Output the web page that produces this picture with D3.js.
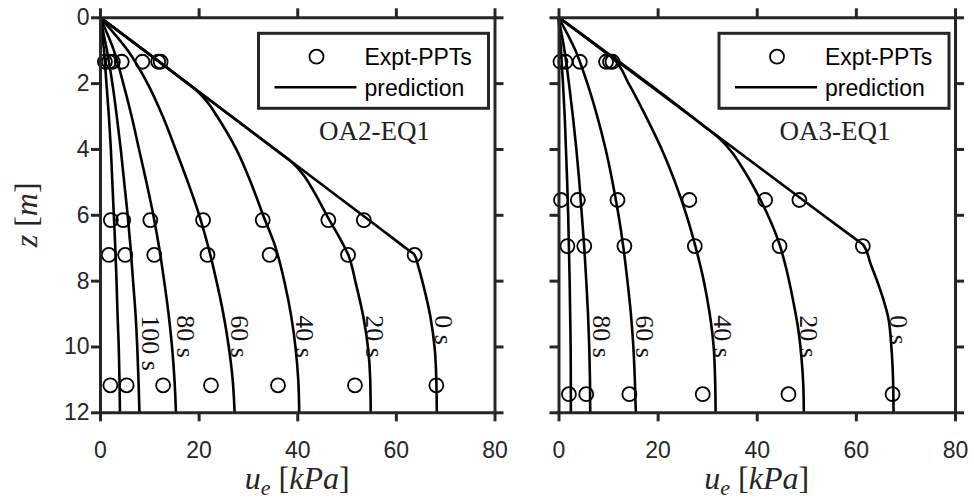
<!DOCTYPE html>
<html>
<head>
<meta charset="utf-8">
<script src="https://cdn.jsdelivr.net/npm/d3@7"></script>
<style>
  body { margin: 0; background: #fff; }
  svg { display: block; }
</style>
</head>
<body>
<div id="chart"></div>
<script>
const width = 974;
const height = 501;

const uTicks = [0, 20, 40, 60, 80];
const zTicks = [0, 2, 4, 6, 8, 10, 12];

// predictions, pairs of [z (m), u_e (kPa)]
// OA2-EQ1
const oa2_0s = [[0, 0], [6.3, 55.8], [7.1, 62.8], [7.2, 63.7], [7.6, 64.6], [8.1, 65.5], [9.1, 67.0], [10.1, 67.9], [11, 68.2], [12, 68.3]];
const oa2_20s = [[0, 0], [4.0, 35.4], [4.4, 38.9], [4.8, 41.3], [5.25, 43.2], [6.1, 46.3], [6.7, 48.6], [7.2, 50.3], [8.1, 51.9], [9.1, 53.4], [10.1, 54.4], [11, 54.8], [12, 54.9]];
const oa2_40s = [[0, 0], [2.0, 17.7], [2.2, 19.4], [2.6, 21.9], [3.0, 23.7], [4.0, 27.6], [5.1, 30.8], [6.1, 33.3], [6.9, 35.4], [8.1, 37.5], [9.1, 38.8], [10.1, 39.7], [11, 40.2], [12, 40.4]];
const oa2_60s = [[0, 0], [1, 5.6], [2, 9.6], [3, 12.7], [4, 15.3], [5, 17.8], [6, 20.1], [7, 22.0], [8, 23.6], [9, 25.0], [10, 26.1], [11, 26.9], [12, 27.3]];
const oa2_80s = [[0, 0], [1, 2.8], [2, 4.7], [3, 6.4], [4, 7.9], [5, 9.4], [6, 10.8], [7, 12.0], [8, 13.0], [9, 13.9], [10, 14.6], [11, 15.1], [12, 15.4]];
const oa2_100s = [[0, 0], [1, 1.4], [2, 2.5], [3, 3.4], [4, 4.2], [5, 4.9], [6, 5.6], [7, 6.2], [8, 6.7], [9, 7.2], [10, 7.55], [11, 7.8], [12, 8.0]];
const oa2_120s = [[0, 0], [1, 0.8], [2, 1.3], [3, 1.8], [4, 2.2], [5, 2.5], [6, 2.8], [7, 3.1], [8, 3.35], [9, 3.55], [10, 3.8], [11, 3.95], [12, 4.05]];

const oa2Labels = ["0 s", "20 s", "40 s", "60 s", "80 s", "100 s"];
const oa2LabelU = [69.8, 55.8, 41.6, 28.5, 17.4, 10.3];
const oa2LabelZ = 9.05;

// measured (Expt-PPTs)
const oa2PtDepth = [1.35, 6.16, 7.22, 11.18];
const oa2PtU = [
  [1.0, 1.8, 2.6, 4.4, 8.6, 11.8, 12.3],
  [2.2, 4.7, 10.2, 20.9, 33.0, 46.3, 53.5],
  [1.8, 5.1, 11.0, 21.8, 34.4, 50.3, 63.8],
  [2.1, 5.4, 12.8, 22.5, 36.1, 51.7, 68.2]
];

// OA3-EQ1
const oa3_0s = [[0, 0], [6.0, 53.3], [6.8, 60.5], [6.9, 61.4], [7.5, 63.0], [8.1, 64.5], [8.6, 65.6], [9.1, 66.5], [10.1, 67.2], [11, 67.5], [12, 67.6]];
const oa3_20s = [[0, 0], [3.3, 29.3], [3.7, 32.6], [4.1, 35.0], [4.5, 36.8], [5.5, 40.6], [6.9, 44.6], [7.6, 45.9], [8.5, 47.2], [9.4, 48.3], [10.3, 49.0], [11.2, 49.4], [12, 49.5]];
const oa3_40s = [[0, 0], [1.13, 10.0], [1.25, 11.0], [2, 14.1], [3, 17.6], [4, 20.8], [5, 23.5], [6, 25.8], [7, 27.7], [8, 29.3], [9, 30.5], [10, 31.3], [11, 31.6], [12, 31.7]];
const oa3_60s = [[0, 0], [1, 3.4], [2, 5.8], [3, 7.8], [4, 9.5], [5, 10.9], [6, 12.1], [7, 13.1], [8, 13.9], [9, 14.6], [10, 15.1], [11, 15.4], [12, 15.6]];
const oa3_80s = [[0, 0], [1, 1.2], [2, 2.1], [3, 2.9], [4, 3.6], [5, 4.2], [6, 4.7], [7, 5.2], [8, 5.6], [9, 5.95], [10, 6.2], [11, 6.35], [12, 6.4]];
const oa3_100s = [[0, 0], [1, 0.5], [2, 0.9], [3, 1.25], [4, 1.5], [5, 1.75], [6, 1.95], [7, 2.1], [8, 2.25], [9, 2.35], [10, 2.45], [12, 2.5]];

const oa3Labels = ["0 s", "20 s", "40 s", "60 s", "80 s"];
const oa3LabelU = [68.7, 50.6, 33.2, 17.4, 8.75];
const oa3LabelZ = 9.05;

const oa3PtDepth = [1.35, 5.55, 6.95, 11.45];
const oa3PtU = [
  [0.4, 1.4, 4.3, 9.6, 10.4, 10.9],
  [0.5, 3.9, 11.9, 26.4, 41.7, 48.6],
  [1.8, 5.2, 13.3, 27.5, 44.6, 61.4],
  [2.1, 5.6, 14.3, 29.1, 46.4, 67.4]
];

const axisColor = "#262626";
const sans = "'Liberation Sans', Arial, sans-serif";
const serif = "'Liberation Serif', 'Times New Roman', serif";

const svg = d3.select("#chart").append("svg")
  .attr("width", width)
  .attr("height", height)
  .style("background", "#fff");

const y = d3.scaleLinear([0, 12], [17.3, 412.3]);

function styleAxis (sel) {
  sel.select(".domain").attr("stroke", axisColor).attr("stroke-width", 3).attr("stroke-linecap", "square");
  sel.selectAll(".tick line").attr("stroke", axisColor).attr("stroke-width", 3);
  sel.selectAll(".tick text").attr("fill", axisColor).style("font", `23px ${sans}`);
}

function panel (cfg) {
  const x = d3.scaleLinear([0, 80], [cfg.left, cfg.right]);
  const g = svg.append("g");

  const line = d3.line()
    .x(d => x(d[1]))
    .y(d => y(d[0]))
    .curve(d3.curveMonotoneY);

  g.append("g")
    .selectAll("path")
    .data(cfg.curves)
    .join("path")
    .attr("fill", "none")
    .attr("stroke", "#000")
    .attr("stroke-width", 2.6)
    .attr("d", line);

  const pts = cfg.ptDepth.flatMap((z, i) => cfg.ptU[i].map(u => ({z, u})));
  g.append("g")
    .selectAll("circle")
    .data(pts)
    .join("circle")
    .attr("cx", d => x(d.u))
    .attr("cy", d => y(d.z))
    .attr("r", 7)
    .attr("fill", "none")
    .attr("stroke", "#000")
    .attr("stroke-width", 1.8);

  // time labels along the isochrones
  g.append("g")
    .selectAll("text")
    .data(cfg.labels)
    .join("text")
    .attr("transform", (d, i) => `translate(${x(cfg.labelU[i])},${y(cfg.labelZ)}) rotate(90)`)
    .attr("dy", "0.35em")
    .style("font", `26px ${serif}`)
    .attr("fill", "#111")
    .text(d => d);

  // axes
  g.append("g")
    .attr("transform", `translate(0,${y(12)})`)
    .call(d3.axisBottom(x).tickValues(uTicks).tickSize(9).tickSizeOuter(0).tickPadding(20))
    .call(styleAxis);
  g.append("g")
    .attr("transform", `translate(0,${y(0)})`)
    .call(d3.axisTop(x).tickValues(uTicks).tickSize(9).tickSizeOuter(0).tickFormat(""))
    .call(styleAxis);
  g.append("g")
    .attr("transform", `translate(${x(0)},0)`)
    .call(d3.axisLeft(y).tickValues(zTicks).tickSize(9).tickSizeOuter(0).tickPadding(1.5)
      .tickFormat(cfg.yLabels ? d3.format("d") : ""))
    .call(styleAxis);
  g.append("g")
    .attr("transform", `translate(${x(80)},0)`)
    .call(d3.axisRight(y).tickValues(zTicks).tickSize(9).tickSizeOuter(0).tickFormat(""))
    .call(styleAxis);

  // legend
  const r = cfg.right;
  g.append("rect")
    .attr("x", r - 236)
    .attr("y", 33.3)
    .attr("width", 230)
    .attr("height", 75)
    .attr("fill", "#fff")
    .attr("stroke", axisColor)
    .attr("stroke-width", 3);
  g.append("circle")
    .attr("cx", r - 178)
    .attr("cy", 56.7)
    .attr("r", 7)
    .attr("fill", "none")
    .attr("stroke", "#000")
    .attr("stroke-width", 1.8);
  g.append("line")
    .attr("x1", r - 220)
    .attr("x2", r - 138)
    .attr("y1", 87.3)
    .attr("y2", 87.3)
    .attr("stroke", "#000")
    .attr("stroke-width", 2.6);
  g.append("text")
    .attr("x", r - 130)
    .attr("y", 65)
    .style("font", `23px ${sans}`)
    .attr("fill", "#000")
    .text("Expt-PPTs");
  g.append("text")
    .attr("x", r - 130)
    .attr("y", 96)
    .style("font", `23px ${sans}`)
    .attr("fill", "#000")
    .text("prediction");

  g.append("text")
    .attr("x", r - 64.5)
    .attr("y", 140)
    .attr("text-anchor", "end")
    .style("font", `27px ${serif}`)
    .attr("fill", "#222")
    .text(cfg.name);

  // x label: u_e [kPa]
  const xl = g.append("text")
    .attr("x", (cfg.left + cfg.right) / 2)
    .attr("y", 489)
    .attr("text-anchor", "middle")
    .style("font", `32px ${serif}`)
    .attr("fill", axisColor);
  xl.append("tspan").attr("font-style", "italic").text("u");
  xl.append("tspan").attr("font-style", "italic").attr("font-size", "22px").attr("dy", 6).text("e");
  xl.append("tspan").attr("dy", -6).text(" [");
  xl.append("tspan").attr("font-style", "italic").text("kPa");
  xl.append("tspan").text("]");
}

panel({
  left: 100, right: 494.5, name: "OA2-EQ1", yLabels: true,
  curves: [oa2_0s, oa2_20s, oa2_40s, oa2_60s, oa2_80s, oa2_100s, oa2_120s],
  labels: oa2Labels, labelU: oa2LabelU, labelZ: oa2LabelZ,
  ptDepth: oa2PtDepth, ptU: oa2PtU
});

panel({
  left: 558.5, right: 955, name: "OA3-EQ1", yLabels: false,
  curves: [oa3_0s, oa3_20s, oa3_40s, oa3_60s, oa3_80s, oa3_100s],
  labels: oa3Labels, labelU: oa3LabelU, labelZ: oa3LabelZ,
  ptDepth: oa3PtDepth, ptU: oa3PtU
});

// y label: z [m]
const yl = svg.append("text")
  .attr("transform", `translate(37,${y(6)}) rotate(-90)`)
  .attr("text-anchor", "middle")
  .style("font", `32px ${serif}`)
  .attr("fill", axisColor);
yl.append("tspan").attr("font-style", "italic").text("z");
yl.append("tspan").text(" [");
yl.append("tspan").attr("font-style", "italic").text("m");
yl.append("tspan").text("]");
</script>
</body>
</html>
